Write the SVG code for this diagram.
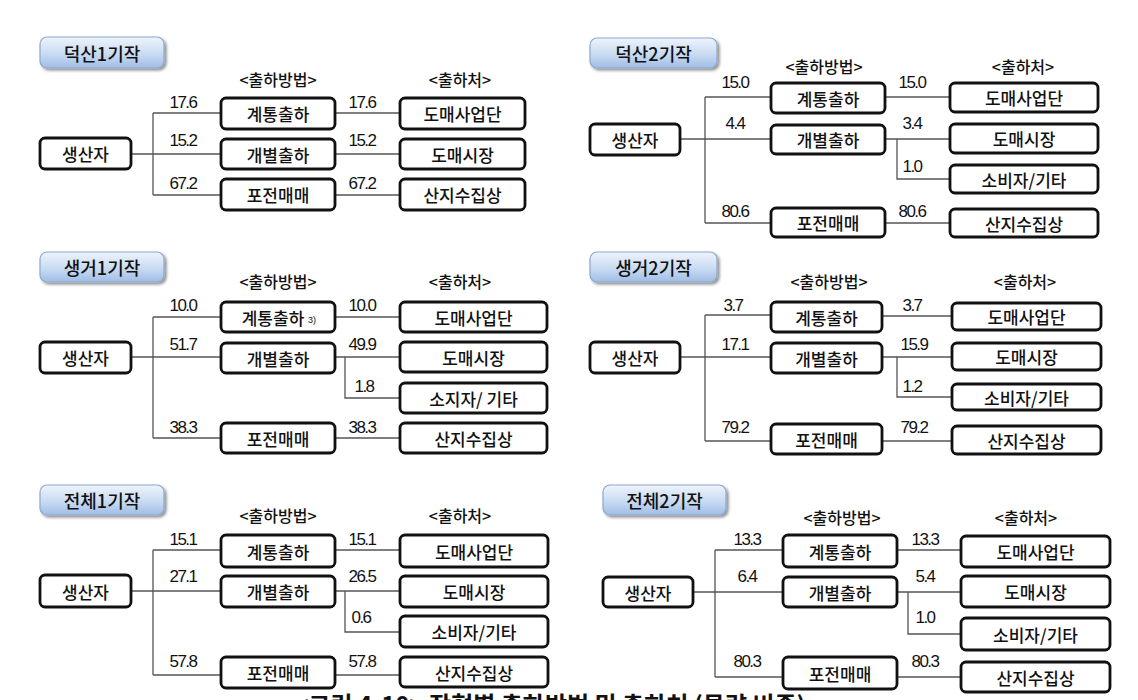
<svg xmlns="http://www.w3.org/2000/svg" width="1138" height="700" viewBox="0 0 1138 700">
<defs>
<linearGradient id="tg" x1="0" y1="0" x2="0" y2="1">
<stop offset="0" stop-color="#eef4fc"/>
<stop offset="0.55" stop-color="#c9dbf2"/>
<stop offset="1" stop-color="#9fbde6"/>
</linearGradient>
<filter id="sh" x="-10%" y="-20%" width="130%" height="160%">
<feGaussianBlur in="SourceAlpha" stdDeviation="1.5"/>
<feOffset dx="1.5" dy="2" result="b"/>
<feComponentTransfer><feFuncA type="linear" slope="0.45"/></feComponentTransfer>
<feMerge><feMergeNode/><feMergeNode in="SourceGraphic"/></feMerge>
</filter>
</defs>
<style>
.box{fill:#fff;stroke:#111;stroke-width:2.8}
.ttl{fill:url(#tg);stroke:#8ea8cc;stroke-width:1.2;filter:url(#sh)}
.t{font-family:"Noto Sans CJK KR","Noto Sans",sans-serif;font-size:17px;font-weight:500;fill:#111;text-anchor:middle;dominant-baseline:central}
.tt{font-family:"Noto Sans CJK KR","Noto Sans",sans-serif;font-size:18px;font-weight:500;fill:#111;text-anchor:middle;dominant-baseline:central}
.hd{font-family:"Noto Sans CJK KR","Noto Sans",sans-serif;font-size:16px;font-weight:500;fill:#111;text-anchor:middle;dominant-baseline:central}
.n{font-family:"Liberation Sans","Noto Sans",sans-serif;font-size:17px;fill:#111;text-anchor:middle;letter-spacing:-1.5px}
.sup{font-family:"Liberation Sans",sans-serif;font-size:9px;fill:#111}
.ln{fill:none;stroke:#555;stroke-width:1.3}
.cap{font-family:"Noto Sans CJK KR",sans-serif;font-size:24px;font-weight:bold;fill:#111;text-anchor:middle}
</style>
<rect width="1138" height="700" fill="#fff"/>

<!-- Panel 1 -->
<g id="panel1">
<g id="p1-connectors">
<path class="ln" d="M131 154H153M153 113V195M153 113H221M153 154H221M153 195H221M335 113H400M335 154H400M335 195H400"/>
</g>
<g id="p1-title"><rect class="ttl" x="40" y="37" width="124" height="31" rx="7"/><text class="tt" x="102" y="52.5">덕산1기작</text></g>
<text class="hd" x="278" y="79">&lt;출하방법&gt;</text>
<text class="hd" x="460" y="79">&lt;출하처&gt;</text>
<g id="p1-nums">
<text class="n" x="183" y="108">17.6</text><text class="n" x="362" y="108">17.6</text>
<text class="n" x="183" y="146">15.2</text><text class="n" x="362" y="146">15.2</text>
<text class="n" x="183" y="189">67.2</text><text class="n" x="362" y="189">67.2</text>
</g>
<g id="p1-producer"><rect class="box" x="40" y="138" width="91" height="31" rx="5"/><text class="t" x="85.5" y="153.5">생산자</text></g>
<g id="p1-m1"><rect class="box" x="221" y="98" width="114" height="31" rx="5"/><text class="t" x="278" y="113.5">계통출하</text></g>
<g id="p1-m2"><rect class="box" x="221" y="139" width="114" height="30" rx="5"/><text class="t" x="278" y="154">개별출하</text></g>
<g id="p1-m3"><rect class="box" x="221" y="179" width="114" height="31" rx="5"/><text class="t" x="278" y="194.5">포전매매</text></g>
<g id="p1-d1"><rect class="box" x="400" y="98" width="125" height="31" rx="5"/><text class="t" x="462.5" y="113.5">도매사업단</text></g>
<g id="p1-d2"><rect class="box" x="400" y="139" width="125" height="30" rx="5"/><text class="t" x="462.5" y="154">도매시장</text></g>
<g id="p1-d3"><rect class="box" x="400" y="179" width="125" height="31" rx="5"/><text class="t" x="462.5" y="194.5">산지수집상</text></g>
</g>

<!-- Panel 2 -->
<g id="panel2">
<g id="p2-connectors">
<path class="ln" d="M680 139H705M705 97V223M705 97H771M705 139H771M705 223H771M885 97H950M885 139H950M897 139V179H950M885 223H950"/>
</g>
<g id="p2-title"><rect class="ttl" x="590" y="38" width="127" height="30" rx="7"/><text class="tt" x="653.5" y="53">덕산2기작</text></g>
<text class="hd" x="824" y="66">&lt;출하방법&gt;</text>
<text class="hd" x="1023" y="66">&lt;출하처&gt;</text>
<g id="p2-nums">
<text class="n" x="735" y="88">15.0</text><text class="n" x="912" y="88">15.0</text>
<text class="n" x="735" y="129">4.4</text><text class="n" x="912" y="129">3.4</text>
<text class="n" x="912" y="172">1.0</text>
<text class="n" x="735" y="217">80.6</text><text class="n" x="912" y="217">80.6</text>
</g>
<g id="p2-producer"><rect class="box" x="590" y="124" width="90" height="31" rx="5"/><text class="t" x="635" y="139.5">생산자</text></g>
<g id="p2-m1"><rect class="box" x="771" y="83" width="114" height="30" rx="5"/><text class="t" x="828" y="98">계통출하</text></g>
<g id="p2-m2"><rect class="box" x="771" y="125" width="114" height="29" rx="5"/><text class="t" x="828" y="139.5">개별출하</text></g>
<g id="p2-m3"><rect class="box" x="771" y="208" width="114" height="29" rx="5"/><text class="t" x="828" y="222.5">포전매매</text></g>
<g id="p2-d1"><rect class="box" x="950" y="83" width="148" height="29" rx="5"/><text class="t" x="1024" y="97.5">도매사업단</text></g>
<g id="p2-d2"><rect class="box" x="950" y="124" width="148" height="29" rx="5"/><text class="t" x="1024" y="138.5">도매시장</text></g>
<g id="p2-d3"><rect class="box" x="950" y="165" width="148" height="28" rx="5"/><text class="t" x="1024" y="179">소비자/기타</text></g>
<g id="p2-d4"><rect class="box" x="950" y="209" width="148" height="28" rx="5"/><text class="t" x="1024" y="223">산지수집상</text></g>
</g>

<!-- Panel 3 -->
<g id="panel3">
<g id="p3-connectors">
<path class="ln" d="M131 357H153M153 317V438M153 317H221M153 357H221M153 438H221M335 317H400M335 357H400M345 357V398H400M335 438H400"/>
</g>
<g id="p3-title"><rect class="ttl" x="40" y="252" width="124" height="30" rx="7"/><text class="tt" x="102" y="267">생거1기작</text></g>
<text class="hd" x="278" y="281">&lt;출하방법&gt;</text>
<text class="hd" x="460" y="281">&lt;출하처&gt;</text>
<g id="p3-nums">
<text class="n" x="183" y="311">10.0</text><text class="n" x="362" y="311">10.0</text>
<text class="n" x="183" y="350">51.7</text><text class="n" x="362" y="350">49.9</text>
<text class="n" x="364" y="392">1.8</text>
<text class="n" x="183" y="433">38.3</text><text class="n" x="362" y="433">38.3</text>
</g>
<g id="p3-producer"><rect class="box" x="40" y="342" width="91" height="31" rx="5"/><text class="t" x="85.5" y="357.5">생산자</text></g>
<g id="p3-m1"><rect class="box" x="221" y="302" width="114" height="30" rx="5"/><text class="t" x="273" y="317">계통출하</text><text class="sup" x="308" y="323">3)</text></g>
<g id="p3-m2"><rect class="box" x="221" y="343" width="114" height="30" rx="5"/><text class="t" x="278" y="358">개별출하</text></g>
<g id="p3-m3"><rect class="box" x="221" y="423" width="114" height="30" rx="5"/><text class="t" x="278" y="438">포전매매</text></g>
<g id="p3-d1"><rect class="box" x="400" y="302" width="147" height="30" rx="5"/><text class="t" x="473.5" y="317">도매사업단</text></g>
<g id="p3-d2"><rect class="box" x="400" y="342" width="147" height="30" rx="5"/><text class="t" x="473.5" y="357">도매시장</text></g>
<g id="p3-d3"><rect class="box" x="400" y="383" width="147" height="30" rx="5"/><text class="t" x="473.5" y="398">소지자/ 기타</text></g>
<g id="p3-d4"><rect class="box" x="400" y="423" width="147" height="30" rx="5"/><text class="t" x="473.5" y="438">산지수집상</text></g>
</g>

<!-- Panel 4 -->
<g id="panel4">
<g id="p4-connectors">
<path class="ln" d="M680 357H705M705 315V441M705 315H771M705 357H771M705 441H771M882 316H952M882 357H952M897 357V397H952M882 441H952"/>
</g>
<g id="p4-title"><rect class="ttl" x="590" y="252" width="127" height="30" rx="7"/><text class="tt" x="653.5" y="267">생거2기작</text></g>
<text class="hd" x="829" y="281">&lt;출하방법&gt;</text>
<text class="hd" x="1025" y="281">&lt;출하처&gt;</text>
<g id="p4-nums">
<text class="n" x="733" y="311">3.7</text><text class="n" x="912" y="311">3.7</text>
<text class="n" x="735" y="350">17.1</text><text class="n" x="914" y="350">15.9</text>
<text class="n" x="912" y="392">1.2</text>
<text class="n" x="735" y="433">79.2</text><text class="n" x="914" y="433">79.2</text>
</g>
<g id="p4-producer"><rect class="box" x="590" y="342" width="90" height="31" rx="5"/><text class="t" x="635" y="357.5">생산자</text></g>
<g id="p4-m1"><rect class="box" x="771" y="302" width="111" height="30" rx="5"/><text class="t" x="826.5" y="317">계통출하</text></g>
<g id="p4-m2"><rect class="box" x="771" y="343" width="111" height="30" rx="5"/><text class="t" x="826.5" y="358">개별출하</text></g>
<g id="p4-m3"><rect class="box" x="771" y="424" width="111" height="30" rx="5"/><text class="t" x="826.5" y="439">포전매매</text></g>
<g id="p4-d1"><rect class="box" x="952" y="303" width="149" height="27" rx="5"/><text class="t" x="1026.5" y="316.5">도매사업단</text></g>
<g id="p4-d2"><rect class="box" x="952" y="343" width="149" height="27" rx="5"/><text class="t" x="1026.5" y="356.5">도매시장</text></g>
<g id="p4-d3"><rect class="box" x="952" y="384" width="149" height="26" rx="5"/><text class="t" x="1026.5" y="397">소비자/기타</text></g>
<g id="p4-d4"><rect class="box" x="952" y="426" width="149" height="28" rx="5"/><text class="t" x="1026.5" y="440">산지수집상</text></g>
</g>

<!-- Panel 5 -->
<g id="panel5">
<g id="p5-connectors">
<path class="ln" d="M131 591H153M153 550V675M153 550H221M153 591H221M153 675H221M335 550H400M335 591H400M345 591V632H400M335 675H400"/>
</g>
<g id="p5-title"><rect class="ttl" x="40" y="485" width="124" height="30" rx="7"/><text class="tt" x="102" y="500">전체1기작</text></g>
<text class="hd" x="278" y="515">&lt;출하방법&gt;</text>
<text class="hd" x="460" y="515">&lt;출하처&gt;</text>
<g id="p5-nums">
<text class="n" x="183" y="545">15.1</text><text class="n" x="362" y="545">15.1</text>
<text class="n" x="183" y="582">27.1</text><text class="n" x="362" y="582">26.5</text>
<text class="n" x="361" y="623">0.6</text>
<text class="n" x="183" y="667">57.8</text><text class="n" x="362" y="667">57.8</text>
</g>
<g id="p5-producer"><rect class="box" x="40" y="575" width="91" height="32" rx="5"/><text class="t" x="85.5" y="591">생산자</text></g>
<g id="p5-m1"><rect class="box" x="221" y="535" width="114" height="32" rx="5"/><text class="t" x="278" y="551">계통출하</text></g>
<g id="p5-m2"><rect class="box" x="221" y="576" width="114" height="31" rx="5"/><text class="t" x="278" y="591.5">개별출하</text></g>
<g id="p5-m3"><rect class="box" x="221" y="657" width="114" height="31" rx="5"/><text class="t" x="278" y="672.5">포전매매</text></g>
<g id="p5-d1"><rect class="box" x="400" y="535" width="148" height="32" rx="5"/><text class="t" x="474" y="551">도매사업단</text></g>
<g id="p5-d2"><rect class="box" x="400" y="576" width="148" height="31" rx="5"/><text class="t" x="474" y="591.5">도매시장</text></g>
<g id="p5-d3"><rect class="box" x="400" y="616" width="148" height="31" rx="5"/><text class="t" x="474" y="631.5">소비자/기타</text></g>
<g id="p5-d4"><rect class="box" x="400" y="657" width="148" height="30" rx="5"/><text class="t" x="474" y="672">산지수집상</text></g>
</g>

<!-- Panel 6 -->
<g id="panel6">
<g id="p6-connectors">
<path class="ln" d="M693 592H715M715 550V677M715 550H783M715 592H783M715 677H783M897 550H961M897 592H961M908 592V634H961M897 677H961"/>
</g>
<g id="p6-title"><rect class="ttl" x="603" y="485" width="123" height="30" rx="7"/><text class="tt" x="664.5" y="500">전체2기작</text></g>
<text class="hd" x="842" y="517">&lt;출하방법&gt;</text>
<text class="hd" x="1026" y="517">&lt;출하처&gt;</text>
<g id="p6-nums">
<text class="n" x="747" y="545">13.3</text><text class="n" x="925" y="545">13.3</text>
<text class="n" x="747" y="582">6.4</text><text class="n" x="925" y="582">5.4</text>
<text class="n" x="925" y="623">1.0</text>
<text class="n" x="747" y="667">80.3</text><text class="n" x="925" y="667">80.3</text>
</g>
<g id="p6-producer"><rect class="box" x="603" y="577" width="90" height="30" rx="5"/><text class="t" x="648" y="592">생산자</text></g>
<g id="p6-m1"><rect class="box" x="783" y="535" width="114" height="32" rx="5"/><text class="t" x="840" y="551">계통출하</text></g>
<g id="p6-m2"><rect class="box" x="783" y="577" width="114" height="30" rx="5"/><text class="t" x="840" y="592">개별출하</text></g>
<g id="p6-m3"><rect class="box" x="783" y="657" width="114" height="32" rx="5"/><text class="t" x="840" y="673">포전매매</text></g>
<g id="p6-d1"><rect class="box" x="961" y="536" width="149" height="31" rx="5"/><text class="t" x="1035.5" y="551.5">도매사업단</text></g>
<g id="p6-d2"><rect class="box" x="961" y="576" width="149" height="31" rx="5"/><text class="t" x="1035.5" y="591.5">도매시장</text></g>
<g id="p6-d3"><rect class="box" x="961" y="618" width="149" height="32" rx="5"/><text class="t" x="1035.5" y="634">소비자/기타</text></g>
<g id="p6-d4"><rect class="box" x="961" y="662" width="149" height="30" rx="5"/><text class="t" x="1035.5" y="677">산지수집상</text></g>
</g>

<text class="cap" x="550" y="714">&lt;그림 4-10&gt; 작형별 출하방법 및 출하처 (물량 비중)</text>
</svg>
